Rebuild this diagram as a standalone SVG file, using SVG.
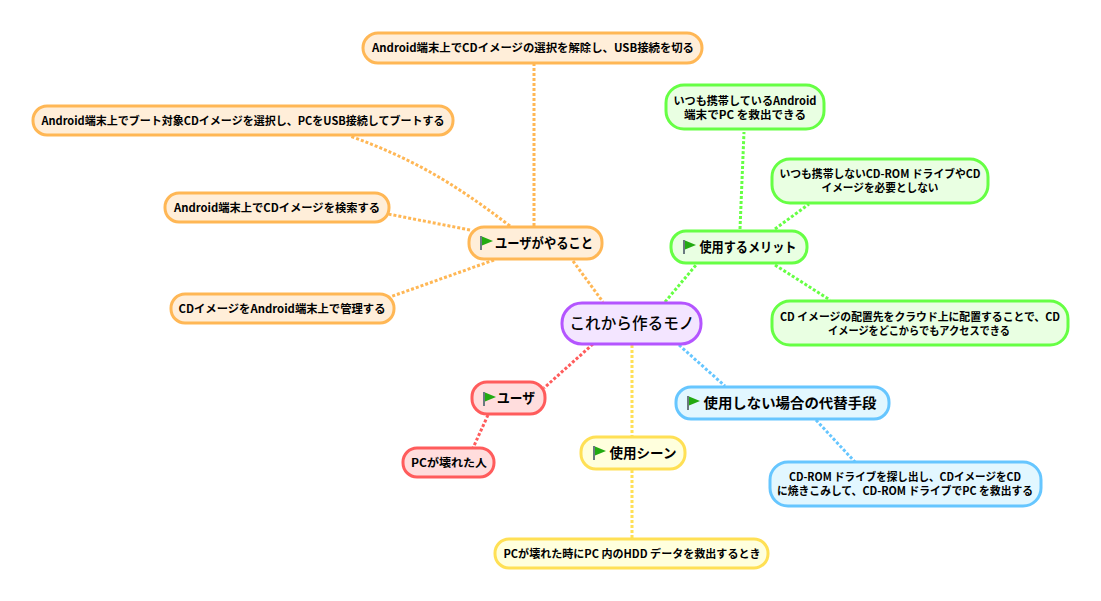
<svg xmlns="http://www.w3.org/2000/svg" width="1101" height="601" viewBox="0 0 1101 601">
<style>
text{font-family:"Noto Sans CJK JP","Liberation Sans",sans-serif;fill:#000;text-anchor:middle}
.s{font-size:11px;font-weight:700}
.m{font-size:13.5px;font-weight:700}
.box{stroke-width:3}
.o rect{fill:#ffeed9;stroke:#ffb755}
.g rect{fill:#e9ffe2;stroke:#66ff44}
.r rect{fill:#ffdddd;stroke:#ff5c5c}
.y rect{fill:#ffffdd;stroke:#ffe055}
.b rect{fill:#e2f7ff;stroke:#66c6ff}
.c{fill:none;stroke-width:3;stroke-dasharray:3 2}
</style>
<defs>
<g id="flag">
<rect x="0" y="0" width="2" height="14" fill="#6a7a80"/>
<path d="M2 0.5 L13 5 L2 9.5Z" fill="#22aa11"/>
</g>
</defs>
<g id="connectors">
<path class="c" stroke="#ffb755" d="M534 226V64"/>
<path class="c" stroke="#ffb755" d="M510 226C450 180 410 158 350 136"/>
<path class="c" stroke="#ffb755" d="M470 230L388 214"/>
<path class="c" stroke="#ffb755" d="M494 260L390 297"/>
<path class="c" stroke="#ffb755" d="M573 261L603 302"/>
<path class="c" stroke="#66ff44" d="M665 302L696 265"/>
<path class="c" stroke="#66ff44" d="M740 229L744 132"/>
<path class="c" stroke="#66ff44" d="M775 229L809 204"/>
<path class="c" stroke="#66ff44" d="M775 265L830 300"/>
<path class="c" stroke="#ff5c5c" d="M593 344L544 388"/>
<path class="c" stroke="#ff5c5c" d="M488 415L473 448"/>
<path class="c" stroke="#ffe055" d="M632 345V436"/>
<path class="c" stroke="#ffe055" d="M632 470V538"/>
<path class="c" stroke="#66c6ff" d="M679 345L725 386"/>
<path class="c" stroke="#66c6ff" d="M816 420L855 462"/>
</g>
<g id="root"><rect x="562" y="303" width="139" height="41" rx="20" fill="#f3e5ff" stroke="#b455ff" stroke-width="3"/><text x="632" y="329" font-size="16" font-weight="500" textLength="125" lengthAdjust="spacingAndGlyphs">これから作るモノ</text></g>
<g id="todo" class="o"><rect class="box" x="469" y="227" width="133" height="32" rx="15"/><use href="#flag" x="480" y="236"/><text class="m" x="544" y="248" textLength="98" lengthAdjust="spacingAndGlyphs">ユーザがやること</text></g>
<g id="merit" class="g"><rect class="box" x="671" y="231" width="136" height="32" rx="15"/><use href="#flag" x="683" y="240"/><text class="m" x="748" y="252" textLength="97" lengthAdjust="spacingAndGlyphs">使用するメリット</text></g>
<g id="user" class="r"><rect class="box" x="472" y="382" width="73" height="32" rx="15"/><use href="#flag" x="483" y="392"/><text class="m" x="516" y="403" textLength="38" lengthAdjust="spacingAndGlyphs">ユーザ</text></g>
<g id="scene" class="y"><rect class="box" x="581" y="437" width="104" height="32" rx="15"/><use href="#flag" x="593" y="446"/><text class="m" x="643" y="458" textLength="67" lengthAdjust="spacingAndGlyphs">使用シーン</text></g>
<g id="alt" class="b"><rect class="box" x="676" y="387" width="213" height="32" rx="15"/><use href="#flag" x="687" y="396"/><text class="m" x="790" y="408" textLength="173" lengthAdjust="spacingAndGlyphs">使用しない場合の代替手段</text></g>
<g id="n1" class="o"><rect class="box" x="363" y="33" width="339" height="30" rx="15"/><text class="s" x="533" y="52" textLength="322" lengthAdjust="spacingAndGlyphs">Android端末上でCDイメージの選択を解除し、USB接続を切る</text></g>
<g id="n2" class="o"><rect class="box" x="33" y="106" width="420" height="29" rx="14"/><text class="s" x="243" y="125" textLength="403" lengthAdjust="spacingAndGlyphs">Android端末上でブート対象CDイメージを選択し、PCをUSB接続してブートする</text></g>
<g id="n3" class="o"><rect class="box" x="165" y="193" width="224" height="29" rx="14"/><text class="s" x="277" y="212" textLength="206" lengthAdjust="spacingAndGlyphs">Android端末上でCDイメージを検索する</text></g>
<g id="n4" class="o"><rect class="box" x="171" y="294" width="223" height="29" rx="14"/><text class="s" x="282" y="313" textLength="207" lengthAdjust="spacingAndGlyphs">CDイメージをAndroid端末上で管理する</text></g>
<g id="n5" class="g"><rect class="box" x="666" y="85" width="158" height="44" rx="18"/><text class="s" x="745" y="105" textLength="143" lengthAdjust="spacingAndGlyphs">いつも携帯しているAndroid</text><text class="s" x="745" y="119" textLength="122" lengthAdjust="spacingAndGlyphs">端末でPC を救出できる</text></g>
<g id="n6" class="g"><rect class="box" x="772" y="159" width="216" height="44" rx="18"/><text class="s" x="880" y="178" textLength="201" lengthAdjust="spacingAndGlyphs">いつも携帯しないCD-ROM ドライブやCD</text><text class="s" x="880" y="192" textLength="117" lengthAdjust="spacingAndGlyphs">イメージを必要としない</text></g>
<g id="n7" class="g"><rect class="box" x="772" y="301" width="296" height="44" rx="18"/><text class="s" x="920" y="321" textLength="280" lengthAdjust="spacingAndGlyphs">CD イメージの配置先をクラウド上に配置することで、CD</text><text class="s" x="919" y="335" textLength="182" lengthAdjust="spacingAndGlyphs">イメージをどこからでもアクセスできる</text></g>
<g id="n8" class="r"><rect class="box" x="403" y="448" width="91" height="29" rx="14"/><text class="s" x="449" y="467" textLength="76" lengthAdjust="spacingAndGlyphs">PCが壊れた人</text></g>
<g id="n9" class="y"><rect class="box" x="495" y="539" width="273" height="29" rx="14"/><text class="s" x="632" y="558" textLength="257" lengthAdjust="spacingAndGlyphs">PCが壊れた時にPC 内のHDD データを救出するとき</text></g>
<g id="n10" class="b"><rect class="box" x="770" y="462" width="271" height="44" rx="18"/><text class="s" x="905" y="481" textLength="232" lengthAdjust="spacingAndGlyphs">CD-ROM ドライブを探し出し、CDイメージをCD</text><text class="s" x="905" y="495" textLength="256" lengthAdjust="spacingAndGlyphs">に焼きこみして、CD-ROM ドライブでPC を救出する</text></g>
</svg>
